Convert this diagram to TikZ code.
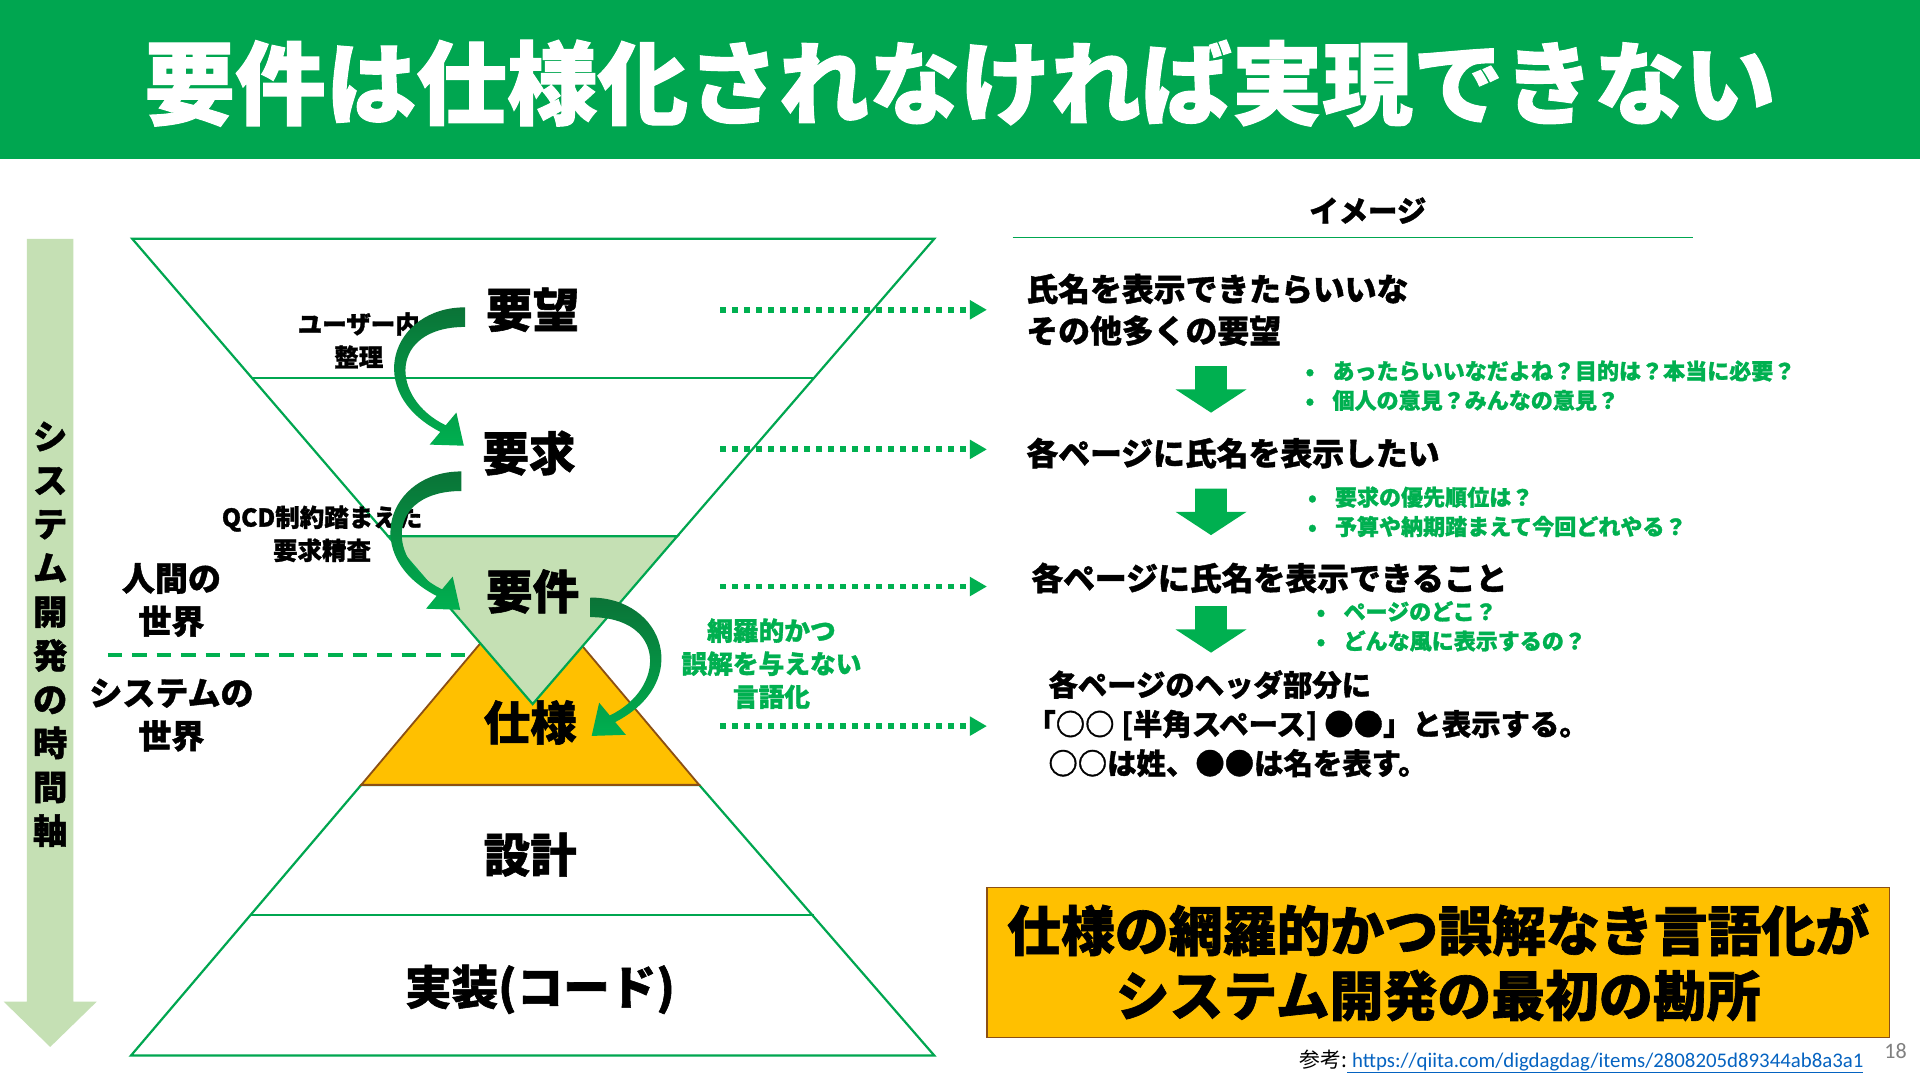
\documentclass[tikz,border=0pt]{standalone}
\usepackage{fontspec}
\setmainfont{Noto Sans CJK JP}[BoldFeatures={FakeBold=1.2}]
\newfontfamily\calib{Carlito}
\usetikzlibrary{arrows.meta}
\definecolor{tgreen}{RGB}{0,166,80}
\definecolor{lgreen}{RGB}{197,224,180}
\definecolor{ggreen}{RGB}{0,176,80}
\definecolor{dgreen}{RGB}{10,115,55}
\definecolor{orng}{RGB}{255,192,0}
\definecolor{brwn}{RGB}{140,80,20}
\definecolor{linkblue}{RGB}{5,99,193}
\newcommand\fsz[2]{\fontsize{#1pt}{#2pt}\selectfont}
\begin{document}
\begin{tikzpicture}[x=1pt,y=-1pt,
  tri/.style={draw=tgreen,line width=1.8pt},
  lab/.style={font=\fsz{38}{44}\bfseries,inner sep=0pt},
  side/.style={font=\fsz{27}{35}\bfseries,align=center,inner sep=0pt},
  small/.style={font=\fsz{20}{27}\bfseries,align=center,inner sep=0pt},
  rt/.style={font=\fsz{26}{34}\bfseries,align=left,anchor=west,inner sep=0pt},
  bul/.style={font=\fsz{18}{24}\bfseries,text=ggreen,align=left,anchor=west,inner sep=0pt},
  dotarr/.style={draw=ggreen,line width=4.8pt,dash pattern=on 4.8pt off 5pt,-{Triangle[length=14pt,width=15pt]}},
  curvarrow/.pic={\shade[top color=dgreen,bottom color=ggreen]
     (-17,-2) .. controls (-77,-2) and (-101,67) .. (-37.2,99.7) -- (-45.9,110.1) -- (-18,111)
     -- (-24.1,83.9) -- (-32.8,94.3) .. controls (-79,72) and (-79,14) .. (-17,14) -- cycle;},
  downblk/.pic={\fill[ggreen] (-13,0) -- (13,0) -- (13,19) -- (29,19) -- (0,38) -- (-29,19) -- (-13,19) -- cycle;}
]
\useasboundingbox (0,0) rectangle (1568,882);
\fill[white] (0,0) rectangle (1568,882);
% title
\fill[tgreen] (0,0) rectangle (1568,130);
\node[font=\fsz{74}{80}\bfseries,text=white,inner sep=0pt] (title) at (784,68) {要件は仕様化されなければ実現できない};
% time axis arrow
\fill[lgreen] (22,195) -- (60,195) -- (60,818) -- (79,818) -- (41,855) -- (3,818) -- (22,818) -- cycle;
\node[font=\fsz{28}{35.8}\bfseries,align=center,inner sep=0pt] (axis) at (41,518) {シ\\ス\\テ\\ム\\開\\発\\の\\時\\間\\軸};
% funnel
\draw[tri] (108,195) -- (763,195) -- (553,438) -- (317,438) -- cycle;
\draw[tri] (206,309) -- (665,309);
% pyramid
\draw[tri] (295,641) -- (571,641) -- (763,862) -- (107,862) -- cycle;
\draw[tri] (205,747) -- (665,747);
% dashed border
\draw[ggreen,line width=3.5pt,dash pattern=on 12pt off 8pt] (88,535) -- (392,535);
\filldraw[fill=orng,draw=brwn,line width=1.5pt] (295,641) -- (571,641) -- (433,477) -- cycle;
\filldraw[fill=lgreen,draw=tgreen,line width=1.8pt] (317,438) -- (553,438) -- (435,575) -- cycle;
% level labels
\node[lab] (yobo) at (435,253) {要望};
\node[lab] (yokyu) at (432,370) {要求};
\node[lab] (yoken) at (435,483) {要件};
\node[lab] (shiyo) at (433,590) {仕様};
\node[lab] (sekkei) at (433,698) {設計};
\node[lab] (jisso) at (441,808) {実装(コード)};
% side labels
\node[side] (human) at (140,490) {人間の\\世界};
\node[side] (system) at (140,584) {システムの\\世界};
\node[small] (lab1) at (293,278) {ユーザー内\\整理};
\node[small] (lab2) at (263,436) {QCD制約踏まえた\\要求精査};
\node[small,font=\fsz{21}{27}\bfseries,text=ggreen] (glab) at (630,542) {網羅的かつ\\誤解を与えない\\言語化};
% curved arrows
\pic at (yobo.west) {curvarrow};
\pic at ([yshift=-17pt]yokyu.west) {curvarrow};
\pic[xscale=-1] at ([xshift=-8pt,yshift=-7pt]yoken.east) {curvarrow};
% dotted arrows
\coordinate (s1) at (588,253); \coordinate (e1) at (806,253);
\coordinate (s2) at (588,367); \coordinate (e2) at (806,367);
\coordinate (s3) at (588,479); \coordinate (e3) at (806,479);
\coordinate (s4) at (588,593); \coordinate (e4) at (806,593);
\draw[dotarr] (s1) -- (e1);
\draw[dotarr] (s2) -- (e2);
\draw[dotarr] (s3) -- (e3);
\draw[dotarr] (s4) -- (e4);
% right side
\node[font=\fsz{24}{28}\bfseries,inner sep=0pt] (img) at (1117,172) {イメージ};
\draw[tgreen,line width=1.2pt] (827,194) -- (1383,194);
\node[rt] (r1) at (838,253) {氏名を表示できたらいいな\\その他多くの要望};
\node[rt] (r2) at (838,370) {各ページに氏名を表示したい};
\node[rt] (r3) at (842,472) {各ページに氏名を表示できること};
\node[rt,font=\fsz{24}{32}\bfseries] (r4) at (856,591) {各ページのヘッダ部分に\\\hspace*{-18pt}「○○ [半角スペース] ●●」と表示する。\\○○は姓、●●は名を表す。};
\pic at (989,299) {downblk};
\pic at (989,399) {downblk};
\pic at (989,495) {downblk};
\node[bul] (b1) at (1066,315) {\makebox[22pt][l]{•}あったらいいなだよね？目的は？本当に必要？\\\makebox[22pt][l]{•}個人の意見？みんなの意見？};
\node[bul] (b2) at (1068,418) {\makebox[22pt][l]{•}要求の優先順位は？\\\makebox[22pt][l]{•}予算や納期踏まえて今回どれやる？};
\node[bul] (b3) at (1075,511.5) {\makebox[22pt][l]{•}ページのどこ？\\\makebox[22pt][l]{•}どんな風に表示するの？};
% key message
\node[draw=brwn,line width=1pt,fill=orng,minimum width=737pt,minimum height=122pt,align=center,font=\fsz{44}{53}\bfseries,inner sep=0pt] (key) at (1174.5,786) {仕様の網羅的かつ誤解なき言語化が\\システム開発の最初の勘所};
\node[anchor=east,font=\fsz{17}{20},inner sep=0pt] (ref) at (1522,867) {参考:{\calib\color{linkblue}\underline{\ https://qiita.com/digdagdag/items/2808205d89344ab8a3a1}}};
\node[font=\calib\fsz{18}{20},text=gray,inner sep=0pt] (pg) at (1548,858) {18};
\end{tikzpicture}
\end{document}
